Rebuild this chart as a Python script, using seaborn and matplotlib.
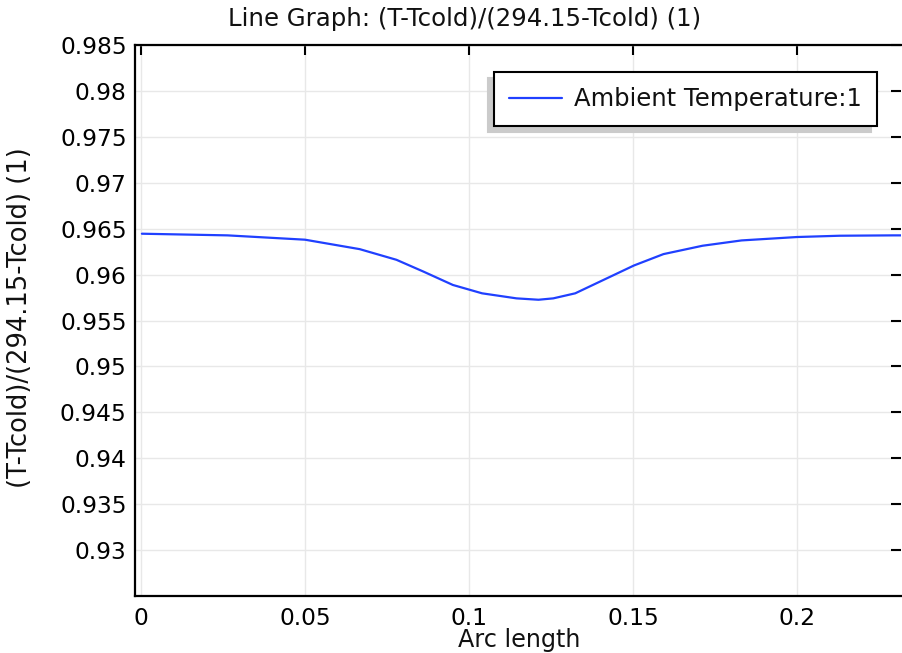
import numpy as np
import pandas as pd
import seaborn as sns
import matplotlib
matplotlib.use("Agg")
import matplotlib.pyplot as plt

arc_length = [0.0003, 0.0264, 0.05, 0.0667, 0.0779, 0.0861, 0.0951, 0.104, 0.1145,
              0.1212, 0.1257, 0.1324, 0.1399, 0.1503, 0.1593, 0.1712, 0.1831, 0.2,
              0.213, 0.2294, 0.2320]
values = [0.96445, 0.96427, 0.9638, 0.96277, 0.96161, 0.96033, 0.95887, 0.95796, 0.95741,
          0.95726, 0.95741, 0.95796, 0.95923, 0.96099, 0.96223, 0.96314, 0.96372, 0.96409,
          0.96423, 0.96427, 0.96427]
series_name = "Ambient Temperature:1"
xticks = [0, 0.05, 0.1, 0.15, 0.2]
xtick_labels = ["0", "0.05", "0.1", "0.15", "0.2"]
yticks = [0.93, 0.935, 0.94, 0.945, 0.95, 0.955, 0.96, 0.965, 0.97, 0.975, 0.98, 0.985]
ytick_labels = ["0.93", "0.935", "0.94", "0.945", "0.95", "0.955", "0.96", "0.965",
                "0.97", "0.975", "0.98", "0.985"]

sns.set_theme(style="white")
plt.rcParams['font.family'] = ['DejaVu Sans']

df = pd.DataFrame({"Arc length": arc_length, "value": values, "series": series_name})

W, H = 902, 653
L, R, T, B = 135, 901, 45, 596
fig = plt.figure(figsize=(W / 100, H / 100), dpi=100)
ax = fig.add_axes([L / W, 1 - B / H, (R - L) / W, (B - T) / H])

sns.lineplot(data=df, x="Arc length", y="value", hue="series", palette=["#2040ff"],
             linewidth=1.6, ax=ax)

ax.set_xlim(-0.0018, (R - 141) / 3280)
ax.set_ylim(0.925, 0.985)
ax.set_xticks(xticks)
ax.set_xticklabels(xtick_labels)
ax.set_yticks(yticks)
ax.set_yticklabels(ytick_labels)
ax.grid(True, color="#e8e8e8", linewidth=1.0)
ax.set_axisbelow(True)

for side in ["left", "bottom", "top"]:
    ax.spines[side].set_visible(True)
    ax.spines[side].set_color("black")
    ax.spines[side].set_linewidth(1.6)
ax.spines["right"].set_visible(False)

ax.tick_params(axis="both", which="major", direction="in", length=7, width=1.5,
               labelsize=16.8, colors="black", top=True, right=True, pad=6)
ax.tick_params(axis="x", pad=8)

ax.set_xlabel("Arc length", fontsize=17.2, color="#111111")
ax.xaxis.set_label_coords((519 - L) / (R - L), -0.058)
ax.set_ylabel("(T-Tcold)/(294.15-Tcold) (1)", fontsize=18.5, color="#111111")
ax.yaxis.set_label_coords((20 - L) / (R - L), 0.505)
ax.yaxis.label.set_va("center")
fig.text(464.5 / W, 1 - 19 / H, "Line Graph: (T-Tcold)/(294.15-Tcold) (1)",
         fontsize=17.6, ha="center", va="center", color="#111111")

leg = ax.legend(loc="upper left", bbox_to_anchor=(494 / W, 1 - 72 / H),
                bbox_transform=fig.transFigure, fontsize=17.5,
                frameon=True, fancybox=False,
                shadow={"ox": -4.5, "oy": -4.2, "color": "#cbcbcb", "alpha": 1},
                edgecolor="black", handlelength=2.18, handletextpad=0.5,
                borderpad=0.62, borderaxespad=0)
leg.get_frame().set_linewidth(1.5)
for t in leg.get_texts():
    t.set_color("#111111")

fig.savefig("out.png", dpi=100)
